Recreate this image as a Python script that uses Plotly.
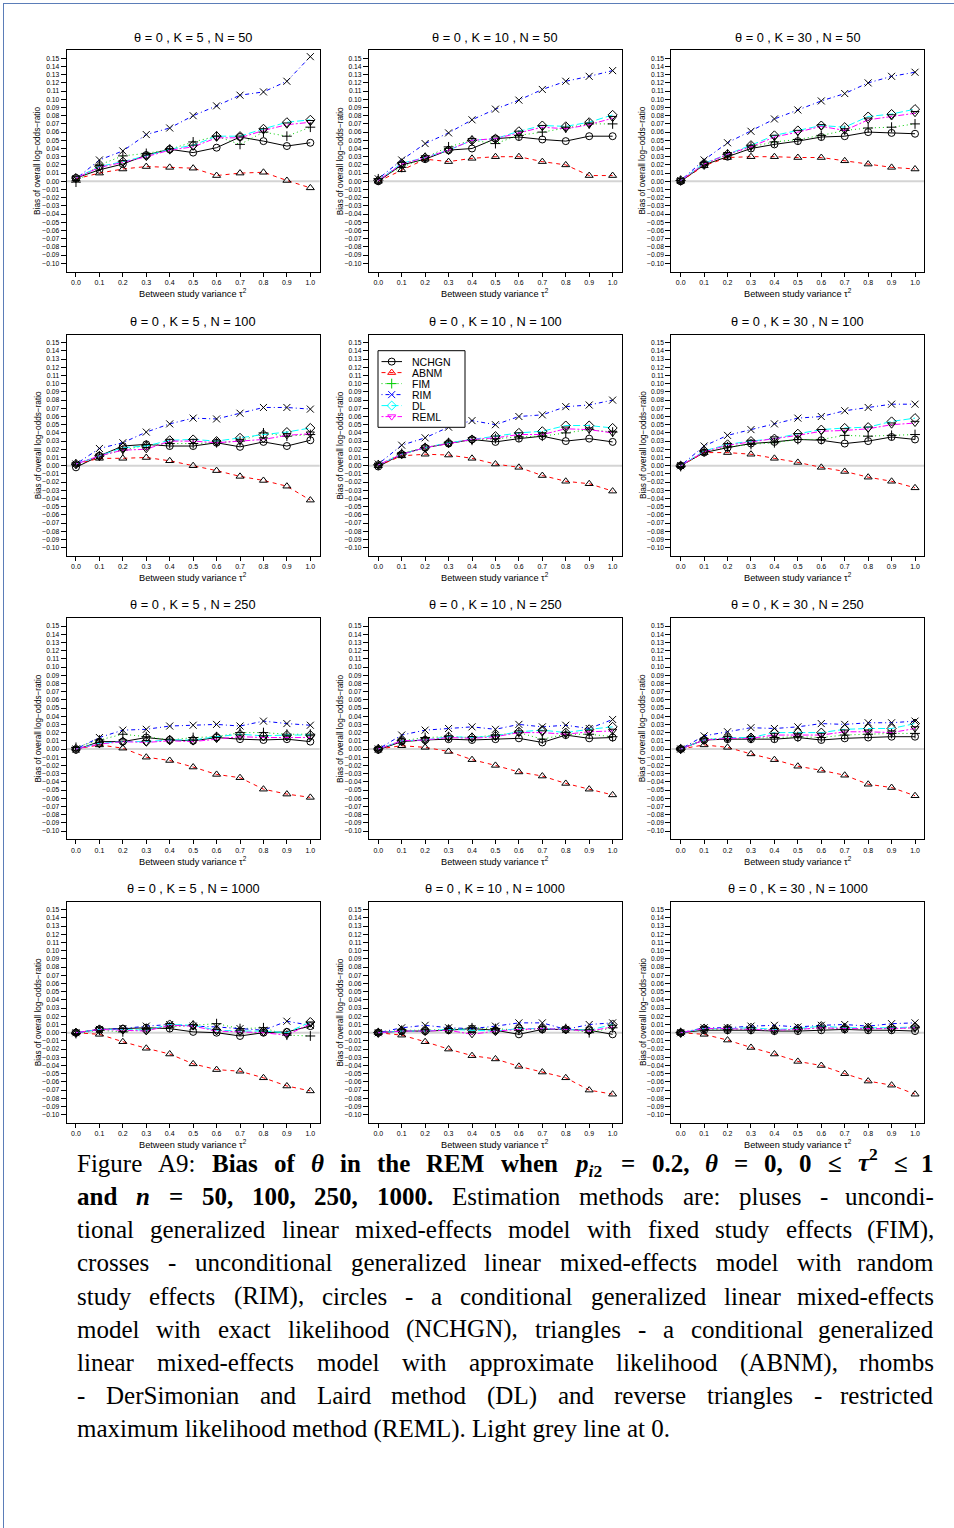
import re
import plotly.graph_objects as go

W, H = 954, 1528

TAU = [0.0, 0.1, 0.2, 0.3, 0.4, 0.5, 0.6, 0.7, 0.8, 0.9, 1.0]
TAU_LABELS = ["0.0", "0.1", "0.2", "0.3", "0.4", "0.5", "0.6", "0.7", "0.8", "0.9", "1.0"]
Y_TICKS = [round(-0.10 + 0.01 * i, 2) for i in range(26)]
K_VALUES = [5, 10, 30]
N_VALUES = [50, 100, 250, 1000]
METHODS = ["NCHGN", "ABNM", "FIM", "RIM", "DL", "REML"]

# each method: 12 panels, row-major (N = 50,100,250,1000 ; K = 5,10,30)
NCHGN = [
    [0.004, 0.014, 0.021, 0.032, 0.039, 0.035, 0.041, 0.054, 0.049, 0.043, 0.047],
    [0.000, 0.020, 0.027, 0.038, 0.040, 0.052, 0.054, 0.051, 0.049, 0.055, 0.055],
    [0.000, 0.020, 0.030, 0.040, 0.045, 0.049, 0.054, 0.055, 0.060, 0.059, 0.058],
    [-0.002, 0.012, 0.024, 0.026, 0.024, 0.024, 0.028, 0.023, 0.029, 0.024, 0.031],
    [-0.001, 0.014, 0.022, 0.027, 0.032, 0.029, 0.033, 0.036, 0.030, 0.033, 0.029],
    [0.000, 0.016, 0.022, 0.027, 0.029, 0.032, 0.031, 0.027, 0.030, 0.035, 0.032],
    [-0.001, 0.009, 0.009, 0.014, 0.011, 0.010, 0.014, 0.012, 0.011, 0.012, 0.009],
    [-0.001, 0.009, 0.011, 0.012, 0.011, 0.012, 0.013, 0.008, 0.017, 0.013, 0.014],
    [0.000, 0.011, 0.012, 0.012, 0.012, 0.014, 0.011, 0.013, 0.014, 0.015, 0.015],
    [0.000, 0.004, 0.005, 0.006, 0.005, 0.001, 0.000, -0.004, 0.000, 0.001, 0.008],
    [0.000, 0.002, 0.002, 0.003, 0.005, 0.003, -0.002, 0.004, 0.004, 0.003, -0.002],
    [0.000, 0.003, 0.003, 0.003, 0.002, 0.002, 0.003, 0.004, 0.003, 0.003, 0.002],
]
ABNM = [
    [0.003, 0.010, 0.015, 0.018, 0.017, 0.016, 0.007, 0.010, 0.011, 0.001, -0.008],
    [0.000, 0.014, 0.027, 0.024, 0.028, 0.030, 0.030, 0.024, 0.020, 0.007, 0.007],
    [0.000, 0.019, 0.029, 0.030, 0.030, 0.029, 0.029, 0.025, 0.021, 0.017, 0.015],
    [0.002, 0.009, 0.009, 0.010, 0.006, 0.000, -0.006, -0.013, -0.018, -0.025, -0.042],
    [0.000, 0.012, 0.014, 0.013, 0.009, 0.002, -0.002, -0.012, -0.019, -0.022, -0.031],
    [0.000, 0.016, 0.016, 0.014, 0.009, 0.004, -0.002, -0.007, -0.014, -0.019, -0.027],
    [0.000, 0.005, 0.001, -0.010, -0.014, -0.022, -0.031, -0.035, -0.049, -0.055, -0.059],
    [0.000, 0.004, 0.002, -0.003, -0.013, -0.020, -0.028, -0.033, -0.042, -0.049, -0.056],
    [0.000, 0.005, 0.002, -0.006, -0.013, -0.021, -0.026, -0.032, -0.043, -0.047, -0.057],
    [0.000, -0.002, -0.011, -0.019, -0.026, -0.038, -0.045, -0.047, -0.055, -0.065, -0.071],
    [0.000, -0.003, -0.011, -0.020, -0.028, -0.032, -0.041, -0.048, -0.055, -0.070, -0.075],
    [0.000, -0.002, -0.009, -0.018, -0.026, -0.035, -0.040, -0.050, -0.059, -0.064, -0.075],
]
FIM = [
    [-0.001, 0.020, 0.031, 0.034, 0.039, 0.048, 0.055, 0.045, 0.060, 0.055, 0.066],
    [0.003, 0.017, 0.029, 0.042, 0.050, 0.046, 0.056, 0.060, 0.065, 0.070, 0.070],
    [0.001, 0.020, 0.033, 0.042, 0.048, 0.051, 0.056, 0.062, 0.065, 0.066, 0.070],
    [0.002, 0.012, 0.019, 0.025, 0.027, 0.027, 0.028, 0.030, 0.040, 0.036, 0.038],
    [0.001, 0.015, 0.022, 0.028, 0.031, 0.033, 0.035, 0.036, 0.040, 0.044, 0.041],
    [-0.001, 0.017, 0.023, 0.026, 0.028, 0.032, 0.032, 0.037, 0.036, 0.037, 0.038],
    [0.002, 0.011, 0.018, 0.015, 0.011, 0.014, 0.015, 0.020, 0.020, 0.018, 0.018],
    [0.000, 0.010, 0.014, 0.015, 0.014, 0.017, 0.020, 0.012, 0.018, 0.018, 0.015],
    [0.000, 0.012, 0.013, 0.013, 0.014, 0.015, 0.014, 0.017, 0.018, 0.019, 0.019],
    [-0.001, 0.003, 0.001, 0.005, 0.007, 0.009, 0.011, 0.005, 0.006, -0.003, -0.004],
    [0.000, 0.003, 0.003, 0.004, 0.006, 0.005, 0.003, 0.005, 0.005, 0.000, 0.006],
    [0.000, 0.004, 0.004, 0.004, 0.003, 0.004, 0.006, 0.005, 0.005, 0.005, 0.006],
]
RIM = [
    [0.003, 0.026, 0.037, 0.057, 0.065, 0.080, 0.092, 0.105, 0.109, 0.122, 0.152],
    [0.003, 0.026, 0.046, 0.059, 0.075, 0.088, 0.099, 0.112, 0.122, 0.128, 0.135],
    [0.001, 0.026, 0.047, 0.061, 0.076, 0.087, 0.098, 0.107, 0.120, 0.128, 0.133],
    [0.002, 0.021, 0.028, 0.041, 0.051, 0.058, 0.057, 0.064, 0.071, 0.071, 0.069],
    [0.002, 0.025, 0.034, 0.047, 0.055, 0.050, 0.060, 0.062, 0.072, 0.074, 0.080],
    [0.000, 0.024, 0.037, 0.044, 0.051, 0.058, 0.060, 0.067, 0.071, 0.075, 0.075],
    [0.000, 0.014, 0.023, 0.024, 0.028, 0.029, 0.030, 0.028, 0.034, 0.031, 0.029],
    [0.000, 0.017, 0.023, 0.025, 0.027, 0.024, 0.030, 0.027, 0.029, 0.025, 0.036],
    [0.000, 0.016, 0.021, 0.026, 0.025, 0.027, 0.031, 0.030, 0.032, 0.032, 0.034],
    [0.000, 0.004, 0.005, 0.008, 0.010, 0.008, 0.007, 0.005, 0.003, 0.014, 0.009],
    [0.000, 0.006, 0.009, 0.006, 0.005, 0.008, 0.012, 0.012, 0.004, 0.010, 0.012],
    [0.000, 0.006, 0.006, 0.008, 0.009, 0.007, 0.009, 0.010, 0.008, 0.011, 0.012],
]
DL = [
    [0.004, 0.018, 0.024, 0.031, 0.039, 0.044, 0.055, 0.055, 0.064, 0.072, 0.075],
    [0.001, 0.022, 0.029, 0.038, 0.050, 0.052, 0.061, 0.068, 0.067, 0.072, 0.081],
    [0.001, 0.022, 0.033, 0.044, 0.056, 0.062, 0.068, 0.066, 0.079, 0.082, 0.088],
    [0.002, 0.012, 0.022, 0.024, 0.031, 0.032, 0.030, 0.034, 0.038, 0.041, 0.046],
    [0.001, 0.014, 0.022, 0.028, 0.032, 0.036, 0.040, 0.042, 0.049, 0.049, 0.046],
    [0.000, 0.018, 0.026, 0.030, 0.033, 0.039, 0.044, 0.046, 0.047, 0.054, 0.058],
    [0.000, 0.007, 0.009, 0.009, 0.011, 0.011, 0.015, 0.018, 0.016, 0.017, 0.017],
    [0.000, 0.010, 0.011, 0.015, 0.014, 0.016, 0.021, 0.023, 0.020, 0.024, 0.027],
    [0.000, 0.011, 0.014, 0.014, 0.020, 0.020, 0.020, 0.024, 0.025, 0.025, 0.031],
    [0.000, 0.004, 0.004, 0.003, 0.010, 0.009, 0.003, 0.002, 0.002, 0.000, 0.013],
    [0.000, 0.002, 0.002, 0.004, 0.003, 0.002, 0.005, 0.005, 0.004, 0.003, 0.010],
    [0.000, 0.005, 0.005, 0.006, 0.004, 0.005, 0.008, 0.006, 0.006, 0.006, 0.007],
]
REML = [
    [0.004, 0.017, 0.023, 0.030, 0.038, 0.042, 0.053, 0.053, 0.062, 0.069, 0.072],
    [0.001, 0.021, 0.029, 0.038, 0.050, 0.052, 0.059, 0.066, 0.064, 0.069, 0.077],
    [0.001, 0.021, 0.033, 0.042, 0.054, 0.060, 0.067, 0.062, 0.075, 0.079, 0.083],
    [0.002, 0.012, 0.019, 0.020, 0.030, 0.030, 0.028, 0.030, 0.032, 0.037, 0.039],
    [0.001, 0.014, 0.022, 0.027, 0.032, 0.034, 0.038, 0.038, 0.045, 0.044, 0.040],
    [0.000, 0.017, 0.025, 0.029, 0.033, 0.037, 0.042, 0.043, 0.045, 0.050, 0.052],
    [0.000, 0.006, 0.009, 0.008, 0.010, 0.009, 0.012, 0.015, 0.014, 0.014, 0.014],
    [0.000, 0.010, 0.011, 0.014, 0.013, 0.015, 0.020, 0.020, 0.018, 0.021, 0.022],
    [0.000, 0.011, 0.013, 0.013, 0.017, 0.017, 0.017, 0.021, 0.021, 0.020, 0.025],
    [0.000, 0.004, 0.003, 0.002, 0.009, 0.008, 0.002, 0.001, 0.000, -0.003, 0.011],
    [0.000, 0.002, 0.002, 0.003, -0.002, 0.002, 0.004, 0.005, 0.004, 0.002, 0.007],
    [0.000, 0.005, 0.005, 0.004, 0.003, 0.004, 0.006, 0.005, 0.005, 0.005, 0.006],
]

# caption: (word, bold) tokens per line; last line is not justified
CAPTION_TOKENS = [
    [("Figure", 0), ("A9:", 0), ("Bias", 1), ("of", 1), ("<i>θ</i>", 1), ("in", 1), ("the", 1),
     ("REM", 1), ("when", 1), ("<i>p</i><sub><i>i</i>2</sub>", 1), ("=", 1), ("0.2,", 1),
     ("<i>θ</i>", 1), ("=", 1), ("0,", 1), ("0", 1), ("≤", 1), ("<i>τ</i><sup>2</sup>", 1),
     ("≤", 1), ("1", 1)],
    [("and", 1), ("<i>n</i>", 1), ("=", 1), ("50,", 1), ("100,", 1), ("250,", 1), ("1000.", 1)]
    + [(w, 0) for w in "Estimation methods are: pluses - uncondi-".split()],
    [(w, 0) for w in "tional generalized linear mixed-effects model with fixed study effects (FIM),".split()],
    [(w, 0) for w in "crosses - unconditional generalized linear mixed-effects model with random".split()],
    [(w, 0) for w in "study effects (RIM), circles - a conditional generalized linear mixed-effects".split()],
    [(w, 0) for w in "model with exact likelihood (NCHGN), triangles - a conditional generalized".split()],
    [(w, 0) for w in "linear mixed-effects model with approximate likelihood (ABNM), rhombs".split()],
    [(w, 0) for w in "- DerSimonian and Laird method (DL) and reverse triangles - restricted".split()],
    [(w, 0) for w in "maximum likelihood method (REML). Light grey line at 0.".split()],
]

DATA = {"NCHGN": NCHGN, "ABNM": ABNM, "FIM": FIM, "RIM": RIM, "DL": DL, "REML": REML}

STYLE = {
    "NCHGN": dict(color="#000000", dash="solid", symbol="circle-open"),
    "ABNM": dict(color="#FF0000", dash="4px,4px", symbol="triangle-up-open"),
    "FIM": dict(color="#00CD00", dash="1px,3px", symbol="cross-thin-open"),
    "RIM": dict(color="#0000FF", dash="1px,3px,4px,3px", symbol="x-thin-open"),
    "DL": dict(color="#00FFFF", dash="7px,3px", symbol="diamond-open"),
    "REML": dict(color="#FF00FF", dash="2px,2px,6px,2px", symbol="triangle-down-open"),
}

# geometry (pixels)
COL_X0 = [66.6, 368.9, 671.3]
PLOT_W = 253.1
ROW_Y0 = [50.1, 334.5, 617.8, 901.5]
PLOT_H = 221.4

SANS = "Liberation Sans, Arial, sans-serif"
SERIF = "Liberation Serif, Times New Roman, serif"
CAP_SIZE = 25
CAP_X0, CAP_X1 = 76, 935

# approximate Times advance widths (1/1000 em) used to justify the caption lines
_REG = dict(zip("abcdefghijklmnopqrstuvwxyz",
                [444, 500, 444, 500, 444, 333, 500, 500, 278, 278, 500, 278, 778, 500, 500, 500, 500, 333, 389, 278, 500, 500, 722, 500, 500, 444]))
_REG.update(zip("ABCDEFGHIJKLMNOPQRSTUVWXYZ",
                [722, 667, 667, 722, 611, 556, 722, 722, 333, 389, 722, 611, 889, 722, 722, 556, 722, 667, 556, 611, 722, 722, 944, 722, 722, 611]))
_REG.update({"(": 333, ")": 333, ",": 250, ".": 250, "-": 333, ":": 278, "=": 564, " ": 250})
_BOLD = dict(zip("abcdefghijklmnopqrstuvwxyz",
                 [500, 556, 444, 556, 444, 333, 500, 556, 278, 333, 556, 278, 833, 556, 500, 556, 556, 444, 389, 333, 556, 500, 722, 500, 500, 444]))
_BOLD.update(zip("ABCDEFGHIJKLMNOPQRSTUVWXYZ",
                 [722, 667, 722, 722, 667, 611, 778, 778, 389, 500, 778, 667, 944, 722, 778, 611, 778, 722, 556, 667, 722, 722, 1000, 722, 722, 667]))
_BOLD.update({"(": 333, ")": 333, ",": 250, ".": 250, "-": 333, ":": 333, "=": 570, " ": 250})
_EXTRA = {"θ": 500, "τ": 440, "≤": 549}


def token_width(tok, bold):
    t = re.sub(r"<sub>.*?</sub>|<sup>.*?</sup>", lambda m: "\x01" * len(re.sub(r"<[^>]+>", "", m.group(0))), tok)
    t = re.sub(r"<[^>]+>", "", t)
    table = _BOLD if bold else _REG
    w = 0
    for ch in t:
        if ch == "\x01":
            w += 350
        elif ch in _EXTRA:
            w += _EXTRA[ch]
        else:
            w += table.get(ch, 500)
    return w * CAP_SIZE / 1000


def fx(px):
    return px / W


def fy(py):
    return 1 - py / H


fig = go.Figure()
layout = dict(
    width=W, height=H, margin=dict(l=0, r=0, t=0, b=0),
    paper_bgcolor="white", plot_bgcolor="rgba(0,0,0,0)", showlegend=False,
    font=dict(family=SANS, color="black"),
)
annotations = []
shapes = []

for r, n in enumerate(N_VALUES):
    for c, k in enumerate(K_VALUES):
        p = r * 3 + c
        i = p + 1
        xa = "x" if i == 1 else f"x{i}"
        ya = "y" if i == 1 else f"y{i}"
        x0, y0 = COL_X0[c], ROW_Y0[r]
        layout["xaxis" if i == 1 else f"xaxis{i}"] = dict(
            domain=[fx(x0), fx(x0 + PLOT_W)], anchor=ya, range=[-0.04, 1.04],
            tickmode="array", tickvals=TAU, ticktext=TAU_LABELS,
            ticks="outside", ticklen=4, tickwidth=1, tickcolor="black",
            showline=True, mirror=True, linecolor="black", linewidth=1,
            showgrid=False, zeroline=False, tickfont=dict(size=7, family=SANS, color="black"),
            fixedrange=True,
        )
        layout["yaxis" if i == 1 else f"yaxis{i}"] = dict(
            domain=[fy(y0 + PLOT_H), fy(y0)], anchor=xa, range=[-0.11, 0.16],
            tickmode="array", tickvals=Y_TICKS,
            ticktext=[("−%.2f" % abs(v)) if v < 0 else "%.2f" % v for v in Y_TICKS],
            ticks="outside", ticklen=5, tickwidth=1, tickcolor="black",
            showline=True, mirror=True, linecolor="black", linewidth=1,
            showgrid=False, zeroline=False, tickfont=dict(size=6.7, family=SANS, color="black"),
            fixedrange=True,
        )
        shapes.append(dict(type="line", xref=f"{xa} domain", yref=ya, x0=0, x1=1, y0=0, y1=0,
                           line=dict(color="#d4d4d4", width=2), layer="below"))
        for m in METHODS:
            st = STYLE[m]
            fig.add_trace(go.Scatter(
                x=TAU, y=DATA[m][p], mode="lines+markers", xaxis=xa, yaxis=ya,
                line=dict(color=st["color"], width=1, dash=st["dash"]),
                marker=dict(symbol=st["symbol"], size=7, color="black",
                            line=dict(color="black", width=1)),
                name=m, hoverinfo="skip",
            ))
        cx = x0 + PLOT_W / 2
        annotations.append(dict(
            x=fx(cx), y=fy(y0 - 13), xref="paper", yref="paper", showarrow=False,
            text=f"θ = 0 , K = {k} , N = {n}", font=dict(size=12.8, family=SANS),
            xanchor="center", yanchor="middle"))
        annotations.append(dict(
            x=fx(cx), y=fy(y0 + PLOT_H + 21.5), xref="paper", yref="paper", showarrow=False,
            text="Between study variance τ<sup>2</sup>", font=dict(size=9.2, family=SANS),
            xanchor="center", yanchor="middle"))
        annotations.append(dict(
            x=fx(x0 - 28.5), y=fy(y0 + PLOT_H / 2), xref="paper", yref="paper", showarrow=False,
            text="Bias of overall log−odds−ratio", textangle=-90, font=dict(size=8.2, family=SANS),
            xanchor="center", yanchor="middle"))

# overlay pixel axes (transparent) holding the legend box, so it covers panel lines
layout["xaxis13"] = dict(domain=[0, 1], range=[0, W], visible=False, anchor="y13", fixedrange=True)
layout["yaxis13"] = dict(domain=[0, 1], range=[H, 0], visible=False, anchor="x13", fixedrange=True)

LEG_X0, LEG_Y0, LEG_X1, LEG_Y1 = 378, 350.7, 465, 427.3
fig.add_trace(go.Scatter(
    x=[LEG_X0, LEG_X1, LEG_X1, LEG_X0, LEG_X0], y=[LEG_Y0, LEG_Y0, LEG_Y1, LEG_Y1, LEG_Y0],
    mode="lines", fill="toself", fillcolor="white", line=dict(color="black", width=1),
    xaxis="x13", yaxis="y13", hoverinfo="skip"))
for j, m in enumerate(METHODS):
    st = STYLE[m]
    yy = 361.6 + 11.0 * j
    fig.add_trace(go.Scatter(
        x=[381.5, 402], y=[yy, yy], mode="lines", xaxis="x13", yaxis="y13",
        line=dict(color=st["color"], width=1, dash=st["dash"]), hoverinfo="skip"))
    fig.add_trace(go.Scatter(
        x=[391.7], y=[yy], mode="markers", xaxis="x13", yaxis="y13",
        marker=dict(symbol=st["symbol"], size=7, color=st["color"],
                    line=dict(color=st["color"], width=1)),
        hoverinfo="skip"))
    annotations.append(dict(x=fx(411), y=fy(yy), xref="paper", yref="paper", showarrow=False,
                            text=m, font=dict(size=10.5, family=SANS), xanchor="left",
                            yanchor="middle", borderpad=0))

# caption, justified word by word
for j, tokens in enumerate(CAPTION_TOKENS):
    yy = 1163 + 33.25 * j
    if j == len(CAPTION_TOKENS) - 1:
        annotations.append(dict(x=fx(CAP_X0), y=fy(yy), xref="paper", yref="paper", showarrow=False,
                                text=" ".join(t for t, _ in tokens),
                                font=dict(size=CAP_SIZE, family=SERIF, color="black"),
                                xanchor="left", yanchor="middle", borderpad=0))
        continue
    widths = [token_width(t, b) for t, b in tokens]
    gap = (CAP_X1 - CAP_X0 - sum(widths)) / (len(tokens) - 1)
    xpos = CAP_X0
    for q, ((t, b), w) in enumerate(zip(tokens, widths)):
        txt = f"<b>{t}</b>" if b else t
        ysh = 0
        if "<sub>" in t:
            ysh = -0.11 * CAP_SIZE
        elif "<sup>" in t:
            ysh = 0.14 * CAP_SIZE
        last = q == len(tokens) - 1
        annotations.append(dict(
            x=fx(CAP_X1 if last else xpos), y=fy(yy), xref="paper", yref="paper", showarrow=False,
            text=txt, font=dict(size=CAP_SIZE, family=SERIF, color="black"),
            xanchor="right" if last else "left", yanchor="middle", yshift=ysh, borderpad=0))
        xpos += w + gap

# page frame lines
shapes.append(dict(type="line", xref="paper", yref="paper", x0=fx(3.5), x1=fx(3.5), y0=0, y1=fy(3),
                   line=dict(color="#5b7db8", width=1)))
shapes.append(dict(type="line", xref="paper", yref="paper", x0=fx(3), x1=1, y0=fy(3.5), y1=fy(3.5),
                   line=dict(color="#5b7db8", width=1)))

layout["annotations"] = annotations
layout["shapes"] = shapes
fig.update_layout(**layout)
fig.write_html("out.html")
